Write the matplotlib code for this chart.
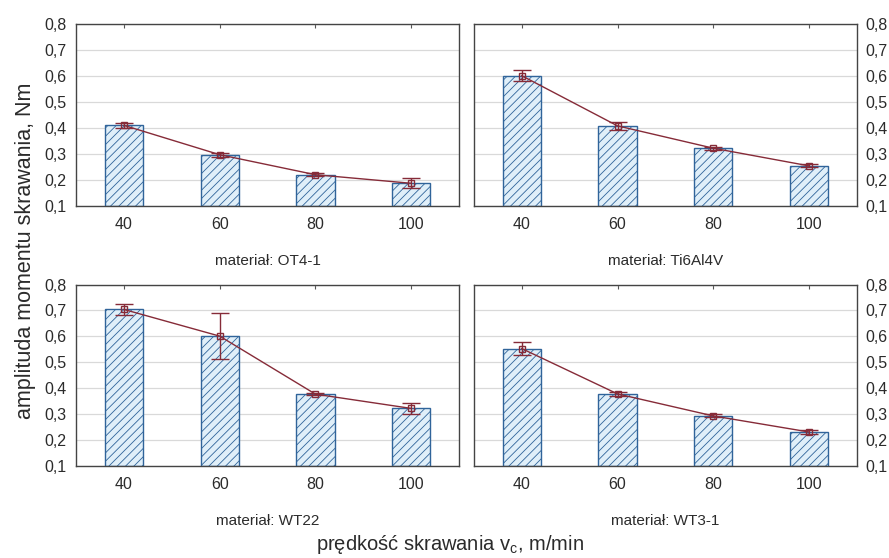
import numpy as np
import matplotlib
matplotlib.use("Agg")
import matplotlib.pyplot as plt

plt.rcParams['font.family'] = ['Liberation Sans', 'DejaVu Sans']
plt.rcParams['hatch.color'] = '#4a5d73'
plt.rcParams['hatch.linewidth'] = 0.6

# === dane ===
speeds = ["40", "60", "80", "100"]
materials = ["OT4-1", "Ti6Al4V", "WT22", "WT3-1"]

ot4_mean = [0.410, 0.297, 0.220, 0.187]
ot4_err = [0.010, 0.007, 0.006, 0.020]

ti_mean = [0.601, 0.408, 0.322, 0.254]
ti_err = [0.022, 0.014, 0.006, 0.006]

wt22_mean = [0.704, 0.601, 0.377, 0.322]
wt22_err = [0.021, 0.090, 0.005, 0.022]

wt3_mean = [0.553, 0.378, 0.293, 0.231]
wt3_err = [0.026, 0.008, 0.006, 0.009]

all_means = [ot4_mean, ti_mean, wt22_mean, wt3_mean]
all_errs = [ot4_err, ti_err, wt22_err, wt3_err]

yticks = [0.1, 0.2, 0.3, 0.4, 0.5, 0.6, 0.7, 0.8]
ytick_labels = ["0,1", "0,2", "0,3", "0,4", "0,5", "0,6", "0,7", "0,8"]

BAR_FACE = '#e0eff9'
BAR_EDGE = '#30649a'
LINE_COL = '#862b38'
TEXT_COL = '#2b2b2b'

fig = plt.figure(figsize=(8.89, 5.58), dpi=100)

# pozycje paneli [left, bottom, width, height]
positions = [
    [0.0855, 0.631, 0.431, 0.326],
    [0.533, 0.631, 0.431, 0.326],
    [0.0855, 0.165, 0.431, 0.325],
    [0.533, 0.165, 0.431, 0.325],
]

for i, (name, means, errs) in enumerate(zip(materials, all_means, all_errs)):
    ax = fig.add_axes(positions[i])
    x = np.arange(len(speeds))
    base = yticks[0]
    heights = [m - base for m in means]
    ax.bar(x, heights, bottom=base, width=0.4, color=BAR_FACE,
           edgecolor=BAR_EDGE, hatch='////', linewidth=1.0, zorder=2)
    ax.errorbar(x, means, yerr=errs, color=LINE_COL, linewidth=1.0,
                marker='s', markersize=5, markerfacecolor='none',
                markeredgecolor=LINE_COL, markeredgewidth=1.0,
                capsize=6.5, elinewidth=1.0, capthick=1.0, zorder=3)

    ax.set_xlim(-0.5, 3.5)
    ax.set_ylim(0.1, 0.8)
    ax.set_xticks(x)
    ax.set_xticklabels(speeds, fontsize=11.5, color=TEXT_COL)
    ax.set_yticks(yticks)
    ax.set_yticklabels(ytick_labels, fontsize=11.5, color=TEXT_COL)
    ax.grid(True, axis='y', color='#d9d9d9', linewidth=0.9, zorder=0)
    ax.set_axisbelow(True)

    ax.tick_params(axis='x', direction='in', top=True, bottom=True,
                   length=3, pad=8, color='#555555')
    if i % 2 == 1:
        ax.yaxis.tick_right()
        ax.tick_params(axis='y', length=0, pad=6)
    else:
        ax.tick_params(axis='y', length=0, pad=7)

    for s in ax.spines.values():
        s.set_color('#444444')
        s.set_linewidth(1.0)

    ax.set_xlabel("materiał: " + name, fontsize=11, color=TEXT_COL, labelpad=16)

fig.text(0.029, 0.55, "amplituda momentu skrawania, Nm", rotation=90,
         ha='center', va='center', fontsize=15.5, color=TEXT_COL)
fig.text(0.506, 0.024, "prędkość skrawania v$_\\mathregular{c}$, m/min",
         ha='center', va='center', fontsize=14.5, color=TEXT_COL)

fig.savefig("out.png", dpi=100)
